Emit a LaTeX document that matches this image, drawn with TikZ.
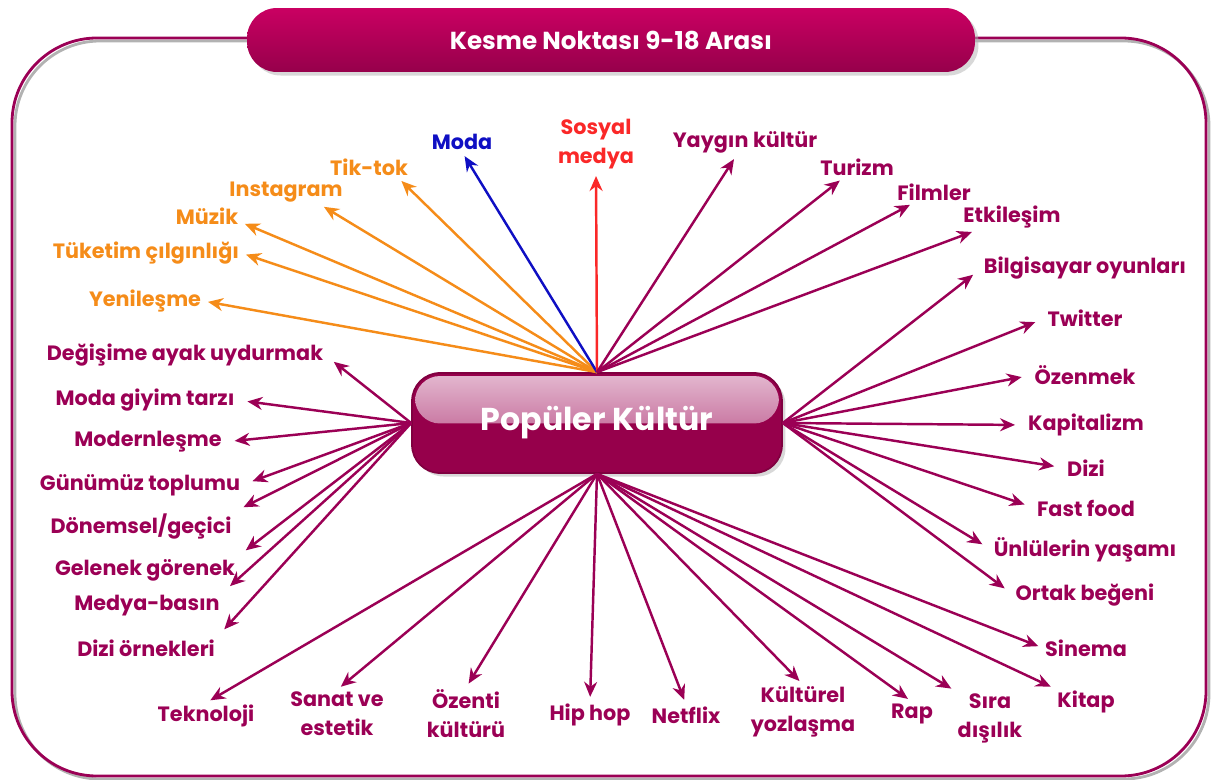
\documentclass[tikz,border=0pt]{standalone}
\usepackage{fontspec}
\setmainfont{Poppins}
\usetikzlibrary{arrows.meta,shadows}

\definecolor{kmaroon}{RGB}{155,0,85}
\definecolor{kdeep}{RGB}{150,0,75}
\definecolor{kgloss}{RGB}{228,185,208}
\definecolor{kmid}{RGB}{178,62,122}
\definecolor{ktop}{RGB}{202,0,98}
\definecolor{korange}{RGB}{245,140,25}
\definecolor{kblue}{RGB}{15,15,195}
\definecolor{kred}{RGB}{250,40,40}

\tikzset{
    lbl/.style={text=kmaroon, font=\bfseries\fontsize{11.8}{16.5}\selectfont, align=center, inner sep=1pt},
    olbl/.style={lbl, text=korange},
    arr/.style={draw=kmaroon, line width=1.4pt, -{Stealth[length=3mm,width=2.6mm]}, shorten >=1mm},
    sarr/.style={arr, shorten >=2.2mm},
    titlebox/.style={rounded corners=6mm, top color=ktop, bottom color=kdeep, minimum width=14.56cm,
        minimum height=1.28cm, text=white, font=\bfseries\fontsize{14}{16}\selectfont,
        drop shadow={shadow xshift=2pt, shadow yshift=-2pt, fill=black!30}},
    popbox/.style={rounded corners=5.6mm, fill=kdeep, draw=kdeep!85!black, line width=1pt,
        minimum width=7.4cm, minimum height=2cm, text=white, font=\bfseries\fontsize{18}{20}\selectfont,
        drop shadow={shadow xshift=2pt, shadow yshift=-2pt, fill=black!30},
        path picture={\shade[top color=kgloss, bottom color=kmid, rounded corners=5mm]
            ([xshift=0.6mm,yshift=-0.6mm]path picture bounding box.north west) rectangle
            ([xshift=-0.6mm,yshift=-0.1mm]path picture bounding box.east);}},
}

\begin{document}
\begin{tikzpicture}[x=0.02cm, y=-0.02cm]
    \useasboundingbox (0,0) rectangle (1211,780);
    % Frame and title
    \draw[black!30, line width=1.6pt, rounded corners=1.7cm] (15,41) rectangle (1209,779);
    \draw[kmaroon, line width=1.6pt, rounded corners=1.7cm] (12,38) rectangle (1206,776);
    \node[titlebox] (title) at (611,40) {Kesme Noktası 9-18 Arası};

    % Centre
    \node[popbox] (pop) at (597,423) {Popüler Kültür};

    % Top labels
    \node[olbl] (tiktok) at (369,167) {Tik-tok};
    \node[olbl] (insta) at (286,192) {Instagram};
    \node[olbl] (muzik) at (207,216) {Müzik};
    \node[olbl] (tuketim) at (146,253) {Tüketim çılgınlığı};
    \node[olbl] (yenilesme) at (145,301) {Yenileşme};
    \node[lbl, text=kblue] (moda) at (462,142) {Moda};
    \node[lbl, text=kred] (sosyal) at (596,144) {Sosyal\\medya};
    \node[lbl] (yaygin) at (745,142) {Yaygın kültür};
    \node[lbl] (turizm) at (857,167) {Turizm};
    \node[lbl] (filmler) at (934,192) {Filmler};
    \node[lbl] (etkilesim) at (1012,217) {Etkileşim};

    % Right labels
    \node[lbl] (bilgisayar) at (1085,268) {Bilgisayar oyunları};
    \node[lbl] (twitter) at (1085,318) {Twitter};
    \node[lbl] (ozenmek) at (1085,375) {Özenmek};
    \node[lbl] (kapitalizm) at (1086,425) {Kapitalizm};
    \node[lbl] (dizi) at (1086,468) {Dizi};
    \node[lbl] (fastfood) at (1086,508) {Fast food};
    \node[lbl] (unluler) at (1085,550) {Ünlülerin yaşamı};
    \node[lbl] (ortak) at (1085,595) {Ortak beğeni};
    \node[lbl] (sinema) at (1086,648) {Sinema};
    \node[lbl] (kitap) at (1086,702) {Kitap};

    % Bottom labels
    \node[lbl] (sira) at (990,718) {Sıra\\dışılık};
    \node[lbl] (rap) at (912,714) {Rap};
    \node[lbl] (kulturel) at (803,712) {Kültürel\\yozlaşma};
    \node[lbl] (netflix) at (686,715) {Netflix};
    \node[lbl] (hiphop) at (590,715) {Hip hop};
    \node[lbl] (ozenti) at (466,714) {Özenti\\kültürü};
    \node[lbl] (sanat) at (337,714) {Sanat ve\\estetik};
    \node[lbl] (teknoloji) at (206,716) {Teknoloji};

    % Left labels
    \node[lbl] (degisime) at (185,355) {Değişime ayak uydurmak};
    \node[lbl] (modagiyim) at (145,400) {Moda giyim tarzı};
    \node[lbl] (modern) at (148,442) {Modernleşme};
    \node[lbl] (gunumuz) at (140,485) {Günümüz toplumu};
    \node[lbl] (donemsel) at (141,527) {Dönemsel/geçici};
    \node[lbl] (gelenek) at (145,570) {Gelenek görenek};
    \node[lbl] (medya) at (147,606) {Medya-basın};
    \node[lbl] (diziorn) at (146,648) {Dizi örnekleri};

    % Draw arrows
    \foreach \n/\a in {tiktok/-20, insta/-20, muzik/-10, tuketim/east, yenilesme/east}
        \draw[arr, draw=korange] (pop.north) -- (\n.\a);
    \draw[arr, draw=kblue] (pop.north) -- (moda.south);
    \draw[arr, draw=kred] (pop.north) -- (sosyal.south);
    \foreach \n in {yaygin, turizm, filmler, etkilesim}
        \draw[arr] (pop.north) -- (\n);
    \foreach \n in {bilgisayar, twitter, ozenmek, kapitalizm, dizi, fastfood, unluler, ortak}
        \draw[sarr] (pop.east) -- (\n.west);
    \foreach \n/\a in {sinema/west, kitap/north west, sira/north west, rap/north, kulturel/north,
        netflix/north, hiphop/north, ozenti/north, sanat/north, teknoloji/north}
        \draw[arr] (pop.south) -- (\n.\a);
    \foreach \n/\a in {degisime/east, modagiyim/east, modern/east, gunumuz/east,
        donemsel/north east, gelenek/north east, medya/north east, diziorn/north east}
        \draw[sarr] (pop.west) -- (\n.\a);
\end{tikzpicture}
\end{document}
